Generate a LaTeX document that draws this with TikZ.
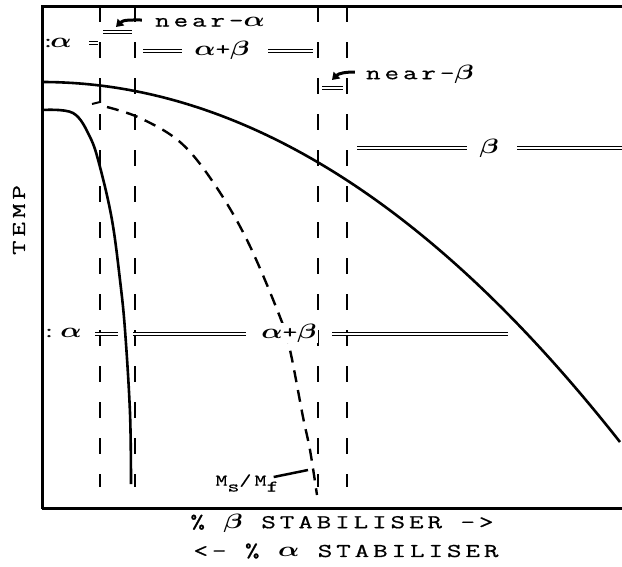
\documentclass[tikz,border=0pt]{standalone}
\usepackage{fontspec}
\usepackage{graphicx}
\newfontfamily\tw{Latin Modern Mono}[FakeStretch=1.45,FakeBold=0.7,LetterSpace=20]
\newcommand\ga{\scalebox{1.35}[1]{$\boldsymbol{\alpha}$}}
\newcommand\gb{\scalebox{1.35}[1]{$\boldsymbol{\beta}$}}
\usepackage{amsmath,bm}
\usetikzlibrary{arrows.meta}

\begin{document}
\begin{tikzpicture}[x=1pt,y=-1pt,
  lbl/.style={font=\tw\fontsize{19.5}{22}\selectfont,inner sep=1pt},
  frm/.style={line width=3pt},
  curve/.style={line width=2.6pt},
  phaseline/.style={dash pattern=on 16pt off 20pt,line width=1.3pt},
  msline/.style={dash pattern=on 12pt off 8pt,line width=2.4pt},
  dbl/.style={double,double distance=1.8pt,line width=0.8pt},
  bentarr/.style={-{Triangle[length=7pt,width=9pt]},line width=3pt}
]
\useasboundingbox (0,0) rectangle (622,566);

% frame
\draw[frm] (622,6) -- (42,6) -- (42,509);
\draw[frm] (42,508) -- (622,508);

% phase boundaries
\foreach \x in {100,135,318,347}
  \draw[phaseline] (\x,6) -- (\x,487);

% transus and martensite curves
\draw[curve] (42,82) .. controls (300,82) and (500,290) .. (620,442);
\draw[curve] plot[smooth,tension=0.6] coordinates {(42,110) (73,113) (90,137) (100,167) (112,220) (120,280) (125,330) (130,413) (131,484)};
\draw[msline] plot[smooth,tension=0.6] coordinates {(107,107) (140,118) (180,142) (213,182) (247,240) (280,317) (290,350) (303,417) (310,450) (317,495)};
\draw[line width=2pt] (100,88) -- (100,102) -- (92,104);

% upper labels
\node[lbl] (colA) at (48,43) {:};
\node[lbl] (alA) at (61,43) {\ga};
\draw[dbl] (89,43) -- (98,43);
\draw[dbl] (103,32) -- (132,32);
\node[lbl] (nearA) at (210,22) {near-\ga};
\coordinate (tipA) at (116,27);
\draw[bentarr] (nearA.west) ++(-12,-2) to[out=180,in=45] (tipA);

\node[lbl] (abTop) at (222,50) {\ga+\gb};
\draw[dbl] (143,51) -- (182,51);
\draw[dbl] (268,51) -- (313,51);

\draw[dbl] (322,88) -- (343,88);
\node[lbl] (nearB) at (420,74) {near-\gb};
\coordinate (tipB) at (332,80);
\draw[bentarr] (nearB.west) ++(-10,-2) to[out=180,in=45] (tipB);

\draw[dbl] (357,148) -- (467,148);
\node[lbl] (beta) at (489,148) {\gb};
\draw[dbl] (517,148) -- (622,148);

% lower labels
\node[lbl] (colB) at (49,333) {:};
\node[lbl] (alB) at (71,333) {\ga};
\draw[dbl] (95,334) -- (118,334);
\draw[dbl] (133,334) -- (246,334);
\node[lbl,fill=white] (abLow) at (289,333) {\ga+\gb};
\draw[dbl] (332,334) -- (508,334);

\node[lbl,font=\tw\fontsize{16}{19}\selectfont] (msmf) at (247,483) {M\raisebox{-6pt}{s}/M\raisebox{-6pt}{f}};
\draw[line width=2.5pt] (msmf.east) ++(-6,-6) coordinate (msA) -- (308,470);

% axis labels
\node[lbl,rotate=90] (temp) at (19,220) {TEMP};
\node[lbl] (xbeta) at (342,523) {\% \gb{} STABILISER ->};
\node[lbl] (xalpha) at (346,551) {<- \% \ga{} STABILISER};
\end{tikzpicture}
\end{document}
